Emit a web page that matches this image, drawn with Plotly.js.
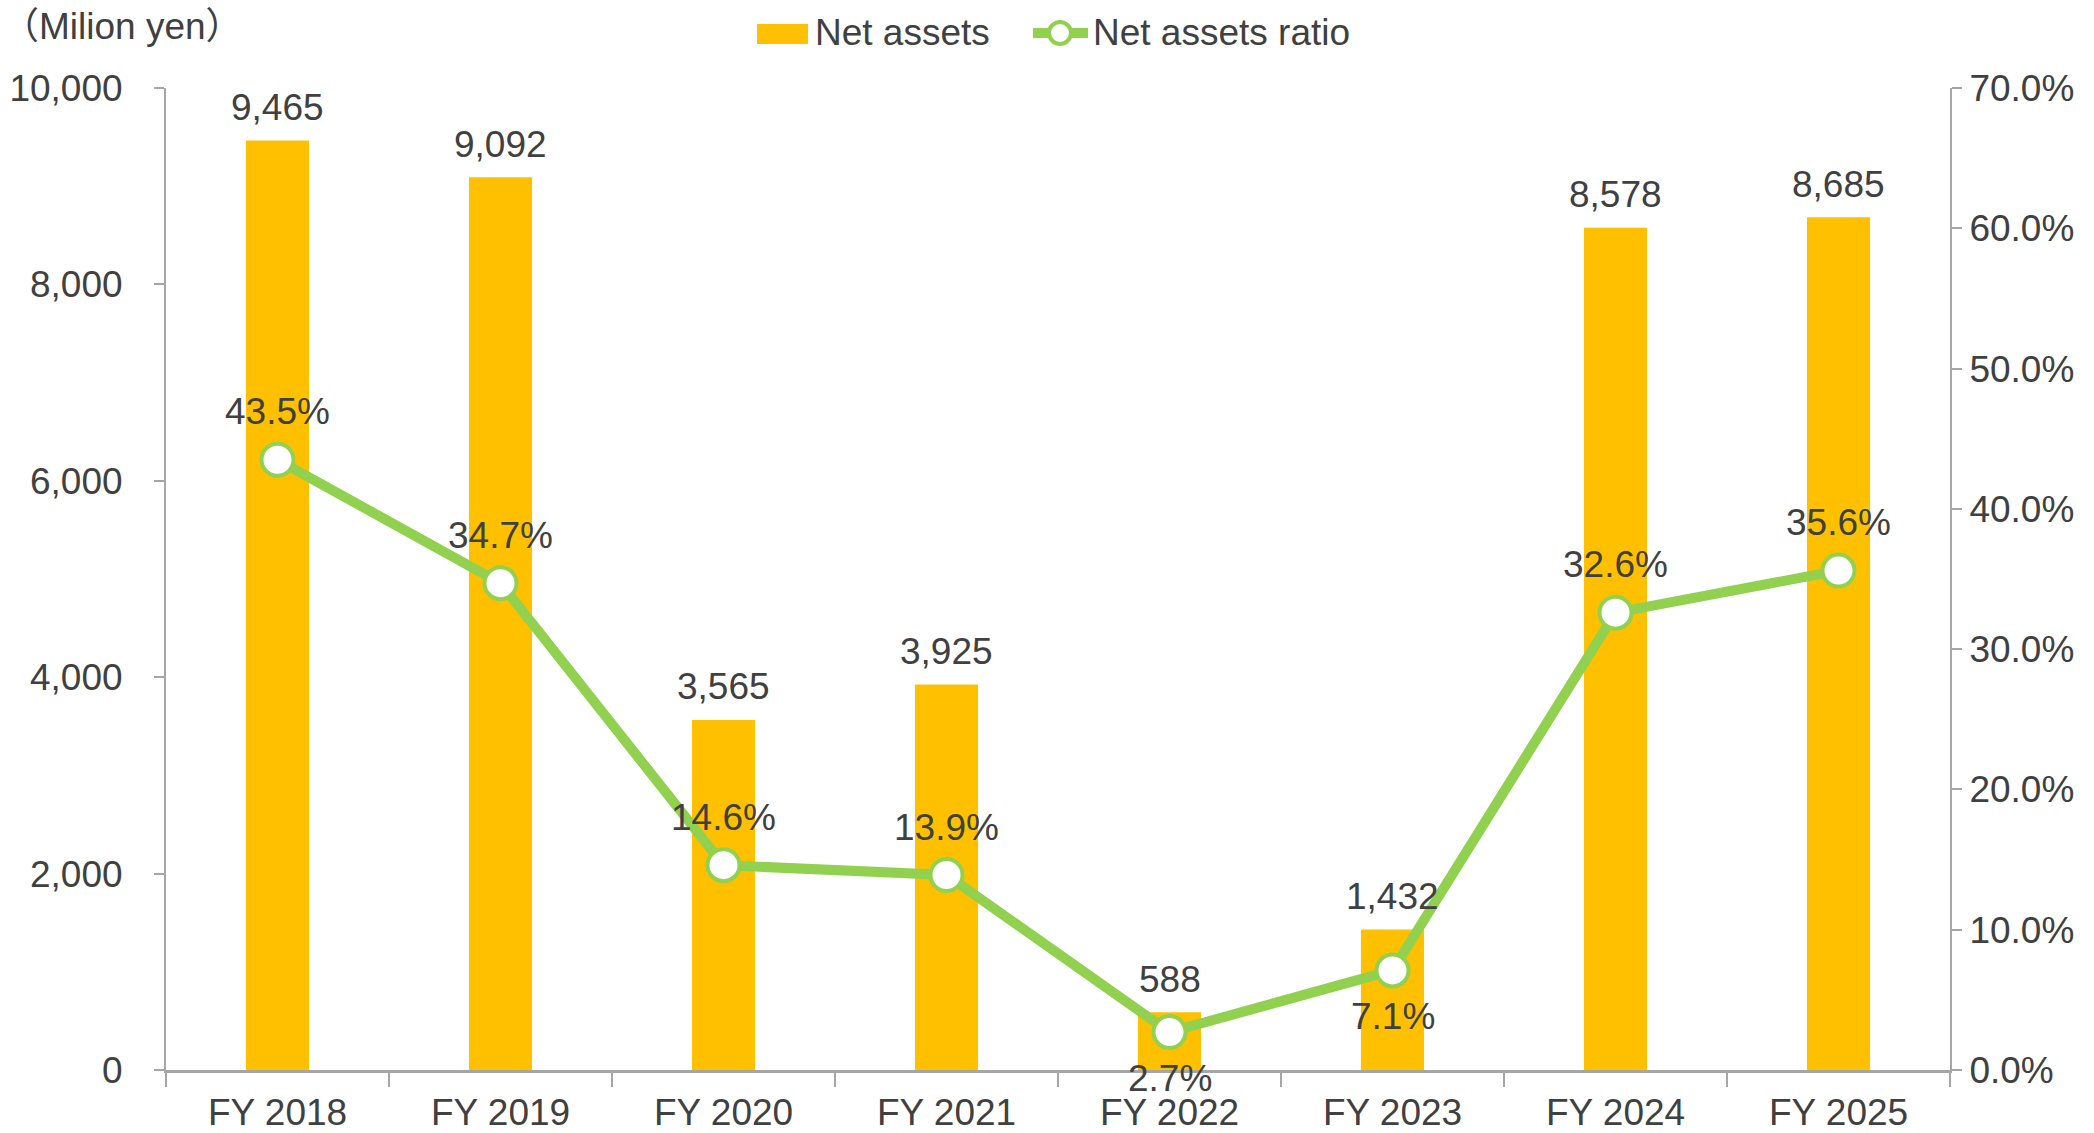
<!DOCTYPE html>
<html>
<head>
<meta charset="utf-8">
<script src="https://cdn.plot.ly/plotly-3.0.1.min.js"></script>
<style>html,body{margin:0;padding:0;background:#fff;}#chart{width:2094px;height:1133px;}</style>
</head>
<body>
<div id="chart"></div>
<script>
const categories = ["FY 2018", "FY 2019", "FY 2020", "FY 2021", "FY 2022", "FY 2023", "FY 2024", "FY 2025"];
const netAssets = [9465, 9092, 3565, 3925, 588, 1432, 8578, 8685];
const netAssetsRatio = [43.5, 34.7, 14.6, 13.9, 2.7, 7.1, 32.6, 35.6];
const ratioLabelBelow = [false, false, false, false, true, true, false, false];
const seriesNames = ["Net assets", "Net assets ratio"];
const unitLabel = "（Milion yen）";

const FONT = "Liberation Sans, Arial, sans-serif";
const CJKFONT = "Liberation Sans, Noto Sans CJK JP, sans-serif";
const TXT = "#404040";
const BAR_COLOR = "#FFC000";
const LINE_COLOR = "#92D050";
const FS = 37;

const W = 2094, H = 1133;
const M = {l: 166, r: 144, t: 88, b: 63};
const PW = W - M.l - M.r, PH = H - M.t - M.b;
// pixel -> paper helpers (for legend decoration only)
const px = x => (x - M.l) / PW;
const py = y => (H - M.b - y) / PH;

const bars = {
  type: "bar", name: seriesNames[0], x: categories, y: netAssets,
  marker: {color: BAR_COLOR}, yaxis: "y", hoverinfo: "skip"
};
const line = {
  type: "scatter", mode: "lines+markers", name: seriesNames[1],
  x: categories, y: netAssetsRatio, yaxis: "y2",
  line: {color: LINE_COLOR, width: 10},
  marker: {size: 32, color: "#FFFFFF", line: {color: LINE_COLOR, width: 4}},
  hoverinfo: "skip"
};

const annotations = [];
categories.forEach((c, i) => {
  annotations.push({
    x: c, y: netAssets[i], xref: "x", yref: "y", text: netAssets[i].toLocaleString("en-US"),
    showarrow: false, yshift: 33, font: {family: FONT, size: FS, color: TXT}
  });
  annotations.push({
    x: c, y: netAssetsRatio[i], xref: "x", yref: "y2", text: netAssetsRatio[i].toFixed(1) + "%",
    showarrow: false, yshift: ratioLabelBelow[i] ? -46 : 48, font: {family: FONT, size: FS, color: TXT}
  });
});
annotations.push({
  xref: "paper", yref: "paper", x: px(0), y: py(27), xanchor: "left", yanchor: "middle",
  text: unitLabel, showarrow: false, font: {family: CJKFONT, size: FS, color: TXT}
});
// legend texts
annotations.push({
  xref: "paper", yref: "paper", x: px(813), y: py(33), xanchor: "left", yanchor: "middle",
  text: seriesNames[0], showarrow: false, font: {family: FONT, size: FS, color: TXT}
});
annotations.push({
  xref: "paper", yref: "paper", x: px(1091), y: py(33), xanchor: "left", yanchor: "middle",
  text: seriesNames[1], showarrow: false, font: {family: FONT, size: FS, color: TXT}
});

const shapes = [
  {type: "rect", xref: "paper", yref: "paper", x0: px(757), x1: px(808), y0: py(24), y1: py(44),
   fillcolor: BAR_COLOR, line: {width: 0}},
  {type: "line", xref: "paper", yref: "paper", x0: px(1033), x1: px(1088), y0: py(33), y1: py(33),
   line: {color: LINE_COLOR, width: 10}},
  {type: "circle", xref: "paper", yref: "paper", x0: px(1049), x1: px(1071), y0: py(22), y1: py(44),
   fillcolor: "#FFFFFF", line: {color: LINE_COLOR, width: 4}}
];

const layout = {
  width: W, height: H,
  margin: M,
  paper_bgcolor: "#ffffff", plot_bgcolor: "#ffffff",
  font: {family: FONT, size: FS, color: TXT},
  bargap: 0.717,
  showlegend: false,
  xaxis: {
    type: "category", showgrid: false, zeroline: false,
    showline: true, linecolor: "#A6A6A6", linewidth: 3,
    ticks: "outside", tickson: "boundaries", ticklen: 14, tickcolor: "#A6A6A6", tickwidth: 2,
    ticklabelstandoff: 8,
    tickfont: {family: FONT, size: FS, color: TXT}
  },
  yaxis: {
    range: [0, 10000], dtick: 2000, tickformat: ",", showgrid: false, zeroline: false,
    showline: true, linecolor: "#A6A6A6", linewidth: 2,
    ticks: "outside", ticklen: 10, tickcolor: "#A6A6A6", tickwidth: 2,
    ticklabelstandoff: 24,
    tickfont: {family: FONT, size: FS, color: TXT}
  },
  yaxis2: {
    overlaying: "y", side: "right", range: [0, 70], dtick: 10, tickformat: ".1f", ticksuffix: "%",
    showgrid: false, zeroline: false,
    showline: true, linecolor: "#A6A6A6", linewidth: 2,
    ticks: "outside", ticklen: 10, tickcolor: "#A6A6A6", tickwidth: 2,
    tickfont: {family: FONT, size: FS, color: TXT}
  },
  shapes: shapes,
  annotations: annotations
};

Plotly.newPlot("chart", [bars, line], layout, {displayModeBar: false, staticPlot: true});
</script>
</body>
</html>
